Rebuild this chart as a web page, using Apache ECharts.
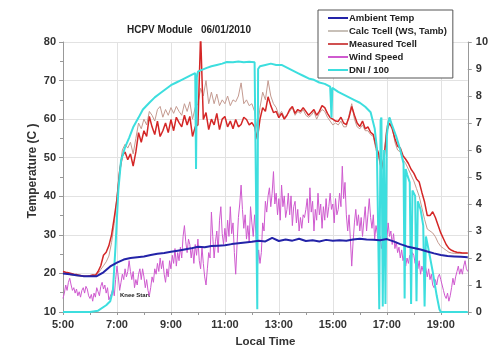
<!DOCTYPE html>
<html><head><meta charset="utf-8">
<script src="https://cdn.jsdelivr.net/npm/echarts@6/dist/echarts.min.js"></script>
<style>html,body{margin:0;padding:0;background:#fff}#c{width:491px;height:353px}</style>
</head><body><div id="c"></div>
<script>
// Time axis ticks (hours)
const xTickLabels = ['5:00','7:00','9:00','11:00','13:00','15:00','17:00','19:00'];

// Ambient Temp (C), every 0.25 h from 5:00
const ambStart = 5.0, ambStep = 0.25;
const ambientTemp = [20.0,19.8,19.5,19.3,19.3,19.3,20.3,21.8,22.8,23.6,24.0,24.2,24.4,24.8,25.1,25.3,25.6,25.9,26.2,26.5,26.9,26.8,27.1,27.2,27.3,27.6,27.8,28.0,28.2,28.5,28.3,29.2,28.4,28.8,28.5,29.0,28.4,28.6,28.3,28.7,28.5,28.6,28.5,28.8,29.0,28.8,28.7,28.6,28.9,28.3,27.6,27.0,26.6,26.2,25.7,25.2,24.8,24.5,24.4,24.3,24.2];

// Measured Tcell (C), every 0.1 h from 5:00
const tcStart = 5.0, tcStep = 0.1;
const measuredTcell = [
20.5,20.3,20.2,20.0,19.8,19.7,19.5,19.4,19.3,19.3,
19.4,19.6,19.5,20.5,22.0,24.7,25.5,27.2,30.0,34.5,
39.3,46.5,50.5,51.5,49.5,51.0,47.8,51.5,56.5,54.0,
57.0,55.5,60.7,58.0,56.0,59.5,55.5,57.0,59.0,56.5,
59.9,57.0,60.5,59.1,58.0,61.0,58.5,60.7,55.5,58.0,
58.5,82.0,59.9,61.7,57.3,60.0,58.5,61.5,57.3,60.0,
60.7,58.0,59.5,57.5,59.9,58.0,58.6,60.5,59.9,58.5,
59.1,58.0,54.8,60.0,63.0,62.0,65.8,63.5,61.7,62.0,
60.4,61.5,60.0,61.0,62.5,63.3,61.5,62.5,62.0,63.0,
62.0,61.0,61.7,62.5,61.0,62.0,63.5,63.0,61.5,60.4,
60.0,59.5,59.4,60.5,59.0,58.6,60.5,63.3,61.0,59.0,
58.1,59.5,57.5,58.0,56.6,56.0,53.0,51.0,47.0,50.0,
57.0,59.0,57.5,55.0,53.0,52.5,50.5,49.6,48.5,47.0,
46.0,44.5,43.7,41.0,38.5,35.0,35.0,36.0,34.5,32.5,
30.5,29.0,27.5,26.5,26.0,25.7,25.5,25.4,25.3,25.3,
25.3];

// Calc Tcell (WS, Tamb) (C), every 0.1 h from 5:00
const calcTcell = [
20.2,20.0,19.8,19.6,19.5,19.4,19.3,19.2,19.2,19.2,
19.3,19.5,19.6,20.0,21.0,22.0,23.0,24.5,28.0,33.0,
40.0,47.0,52.0,53.5,52.5,54.0,51.0,55.0,59.0,57.5,
60.0,58.5,62.0,61.0,59.5,62.5,63.3,60.5,62.5,61.0,
63.0,61.5,63.3,62.0,61.0,64.0,62.0,64.5,60.0,63.0,
64.0,68.0,66.0,70.0,64.0,67.0,64.0,66.5,63.5,65.0,
64.0,66.0,63.5,65.0,64.5,66.0,69.4,64.0,65.0,63.5,
64.0,62.0,57.0,63.0,67.0,65.0,70.0,66.0,64.0,63.0,
61.0,62.0,60.5,61.0,62.0,63.0,61.0,62.0,61.5,62.5,
61.0,60.5,61.0,62.0,60.0,61.5,62.5,62.0,60.5,59.5,
58.5,59.0,58.5,59.5,58.0,58.0,61.0,64.0,60.0,58.0,
57.5,58.5,57.0,57.0,56.0,55.5,52.0,50.0,46.5,51.0,
58.0,60.5,58.0,54.0,52.0,51.5,49.5,48.5,47.0,45.5,
44.0,42.0,40.0,37.0,34.0,31.5,31.0,30.5,29.5,28.0,
27.0,26.5,26.0,25.5,25.3,25.2,25.2,25.2,25.2,25.2,
25.2];

// Wind Speed (m/s), every 0.05 h from 5:00
const wsStart = 5.0, wsStep = 0.05;
const windSpeed = [
0.5,0.7,1.0,0.8,1.1,1.25,1.0,0.8,0.9,0.7,0.85,0.6,0.75,0.55,0.8,0.9,0.7,0.95,0.85,0.6,
0.5,0.65,0.4,0.7,0.55,0.9,0.75,0.6,0.95,1.1,0.85,1.0,0.7,0.9,0.45,0.4,0.7,0.9,0.6,1.2,
1.7,1.3,0.8,1.1,1.4,1.2,1.6,1.3,1.5,1.9,1.5,1.2,1.5,0.9,1.2,1.0,1.4,1.6,1.2,1.6,
1.3,0.9,1.2,0.8,0.6,0.9,1.3,1.1,1.6,1.4,1.8,1.5,2.0,1.6,1.9,1.4,1.1,1.6,1.3,1.9,
1.6,2.1,1.8,2.35,1.7,2.2,1.9,2.4,2.0,2.8,3.2,2.6,2.2,2.7,2.5,2.0,2.4,1.8,2.5,2.1,
2.7,1.9,1.6,2.4,1.8,1.3,1.0,1.6,2.2,2.0,3.7,2.8,2.0,2.6,3.0,2.2,3.4,3.9,2.9,2.5,
3.1,2.6,3.4,2.8,3.9,2.9,3.3,2.2,1.4,2.5,3.5,4.0,4.7,3.8,3.1,3.6,2.7,3.2,2.6,3.9,
3.3,2.8,3.6,2.9,1.6,2.3,1.8,2.2,3.3,3.0,4.1,3.7,4.3,4.6,3.9,4.4,5.2,4.0,4.4,3.6,
4.2,3.4,4.7,3.9,4.3,3.5,3.8,4.4,3.6,4.3,3.2,3.9,4.1,3.3,3.8,3.0,3.5,3.1,3.6,3.5,
3.8,4.2,3.3,4.6,3.7,4.1,3.0,3.8,3.4,4.4,3.6,4.0,3.1,3.9,3.4,4.2,3.5,3.9,4.4,3.8,
4.0,3.3,4.2,3.6,3.8,4.4,3.9,5.4,4.2,4.8,3.6,3.0,3.6,2.7,1.7,2.6,3.3,3.8,3.2,3.6,
3.0,3.5,2.8,3.4,3.9,3.0,3.6,4.2,3.5,3.1,3.6,2.7,3.2,2.9,2.5,2.8,2.35,2.7,2.4,3.0,
2.7,3.3,2.8,3.0,2.5,2.9,2.35,2.6,2.2,2.4,2.0,2.3,1.9,2.1,1.7,2.0,1.8,2.1,1.9,2.2,
2.1,1.8,2.2,1.6,1.9,1.4,1.7,1.5,1.8,1.6,1.3,1.6,1.2,1.4,1.0,0.9,1.2,1.0,1.3,1.4,
1.2,1.0,0.8,0.6,0.5,0.7,0.4,0.6,0.9,1.25,1.0,1.3,1.5,1.7,1.4,1.6,1.4,1.7,1.9,1.6,
1.5];

// DNI / 100, irregular sample times (h)
const dniTimes = [5.0,6.0,6.3,6.6,6.75,6.85,6.95,7.05,7.15,7.3,7.45,7.6,7.8,7.96,8.2,8.4,8.6,8.8,9.0,9.2,9.4,9.6,9.8,9.9,9.93,9.96,10.0,10.1,10.33,10.5,10.7,10.9,11.07,11.3,11.5,11.7,11.9,12.1,12.17,12.2,12.23,12.3,12.5,12.7,12.9,13.1,13.3,13.5,13.7,13.9,14.1,14.3,14.5,14.7,14.9,14.95,14.98,15.05,15.2,15.4,15.6,15.8,16.0,16.2,16.4,16.55,16.63,16.68,16.72,16.77,16.8,16.85,16.9,16.95,17.0,17.05,17.1,17.2,17.35,17.5,17.62,17.66,17.7,17.75,17.85,17.9,17.95,18.05,18.1,18.15,18.25,18.35,18.4,18.45,18.55,18.7,18.85,18.95,19.0,20.0];
const dniValues = [0,0,0.05,0.25,0.4,0.8,2.5,4.5,5.6,6.1,6.45,6.84,7.2,7.5,7.75,7.95,8.1,8.25,8.4,8.5,8.6,8.7,8.8,8.85,5.3,8.7,8.9,8.95,9.04,9.1,9.15,9.2,9.26,9.25,9.28,9.25,9.27,9.25,9.2,0.1,9.0,9.1,9.15,9.2,9.15,9.15,9.05,8.95,8.85,8.75,8.65,8.6,8.5,8.45,8.35,7.2,8.3,8.25,8.15,8.05,7.95,7.85,7.75,7.6,7.4,6.8,6.1,3.0,0.1,7.1,7.2,0.2,6.0,0.3,6.5,7.0,7.2,6.9,6.5,6.0,5.5,0.5,5.3,5.1,4.8,0.3,4.5,4.3,0.4,4.1,3.8,3.2,0.2,2.8,2.3,1.5,0.6,0.1,0,0];

function series(start, step, vals) {
  return vals.map((v, i) => [Math.round((start + i * step) * 1000) / 1000, v]);
}
function pairs(ts, vs) { return ts.map((t, i) => [t, vs[i]]); }

const chart = echarts.init(document.getElementById('c'), null, {renderer: 'canvas'});
const FF = 'Liberation Sans, Arial, sans-serif';
const lab = {fontFamily: FF, fontWeight: 'bold', fontSize: 11, color: '#333'};
chart.setOption({
  animation: false,
  backgroundColor: '#fff',
  title: {
    text: 'HCPV Module   06/01/2010', left: 122, top: 20,
    textStyle: {fontFamily: FF, fontWeight: 'bold', fontSize: 10, color: '#222'}
  },
  grid: {left: 63, right: 23, top: 42, bottom: 39},
  legend: {
    orient: 'vertical', left: 318, top: 10,
    data: ['Ambient Temp', 'Calc Tcell (WS, Tamb)', 'Measured Tcell', 'Wind Speed', 'DNI / 100'],
    icon: 'rect', itemWidth: 20, itemHeight: 2, itemGap: 3,
    backgroundColor: '#fff', borderColor: '#555', borderWidth: 1,
    padding: [3, 6, 3, 10],
    textStyle: {fontFamily: FF, fontWeight: 'bold', fontSize: 9.5, color: '#222', padding: [0,0,0,-4]}
  },
  xAxis: {
    type: 'value', min: 5, max: 20, interval: 2,
    name: 'Local Time', nameLocation: 'middle', nameGap: 24,
    nameTextStyle: {fontFamily: FF, fontWeight: 'bold', fontSize: 11.5, color: '#333'},
    axisLine: {show: true, onZero: false, lineStyle: {color: '#999'}},
    axisTick: {show: true, length: 3, lineStyle: {color: '#999'}},
    minorTick: {show: true, splitNumber: 2, length: 3, lineStyle: {color: '#999'}},
    axisLabel: Object.assign({}, lab, {margin: 7, formatter: v => (v % 2 === 1 && v <= 19) ? xTickLabels[(v - 5) / 2] : ''}),
    splitLine: {show: true, lineStyle: {color: '#e2e2e2'}}
  },
  yAxis: [{
    type: 'value', min: 10, max: 80, interval: 10,
    axisLine: {show: true, lineStyle: {color: '#999'}},
    axisTick: {show: true, length: 4, lineStyle: {color: '#999'}},
    minorTick: {show: true, splitNumber: 2, length: 3, lineStyle: {color: '#999'}},
    axisLabel: Object.assign({}, lab, {margin: 7}),
    splitLine: {show: true, lineStyle: {color: '#e2e2e2'}}
  }, {
    type: 'value', min: 0, max: 10, interval: 1, position: 'right',
    axisLine: {show: true, lineStyle: {color: '#999'}},
    axisTick: {show: true, length: 4, lineStyle: {color: '#999'}},
    axisLabel: Object.assign({}, lab, {margin: 8}),
    splitLine: {show: false}
  }],
  graphic: [{
    type: 'text', x: 33, y: 171, rotation: Math.PI / 2,
    style: {text: 'Temperature (C )', fontFamily: FF, fontWeight: 'bold', fontSize: 12, fill: '#333', align: 'center', verticalAlign: 'middle'}
  }, {
    type: 'text', left: 120, top: 292,
    style: {text: 'Knee Start', fontFamily: FF, fontWeight: 'bold', fontSize: 6, fill: '#222'}
  }],
  series: [
    {name: 'Wind Speed', type: 'line', yAxisIndex: 1, showSymbol: false, symbol: 'none', z: 2,
     data: series(wsStart, wsStep, windSpeed), lineStyle: {color: '#cf5acf', width: 1}, itemStyle: {color: '#cf5acf'}},
    {name: 'Calc Tcell (WS, Tamb)', type: 'line', yAxisIndex: 0, showSymbol: false, symbol: 'none', z: 3,
     data: series(tcStart, tcStep, calcTcell), lineStyle: {color: '#c49a90', width: 1}, itemStyle: {color: '#c8c0b8'}},
    {name: 'Measured Tcell', type: 'line', yAxisIndex: 0, showSymbol: false, symbol: 'none', z: 4,
     data: series(tcStart, tcStep, measuredTcell), lineStyle: {color: '#d42626', width: 1.5}, itemStyle: {color: '#d05050'}},
    {name: 'DNI / 100', type: 'line', yAxisIndex: 1, showSymbol: false, symbol: 'none', z: 5,
     data: pairs(dniTimes, dniValues), lineStyle: {color: '#3ddede', width: 2}, itemStyle: {color: '#3ddede'}},
    {name: 'Ambient Temp', type: 'line', yAxisIndex: 0, showSymbol: false, symbol: 'none', z: 6,
     data: series(ambStart, ambStep, ambientTemp), lineStyle: {color: '#2323a8', width: 2}, itemStyle: {color: '#2323a8'}}
  ]
});
</script></body></html>
